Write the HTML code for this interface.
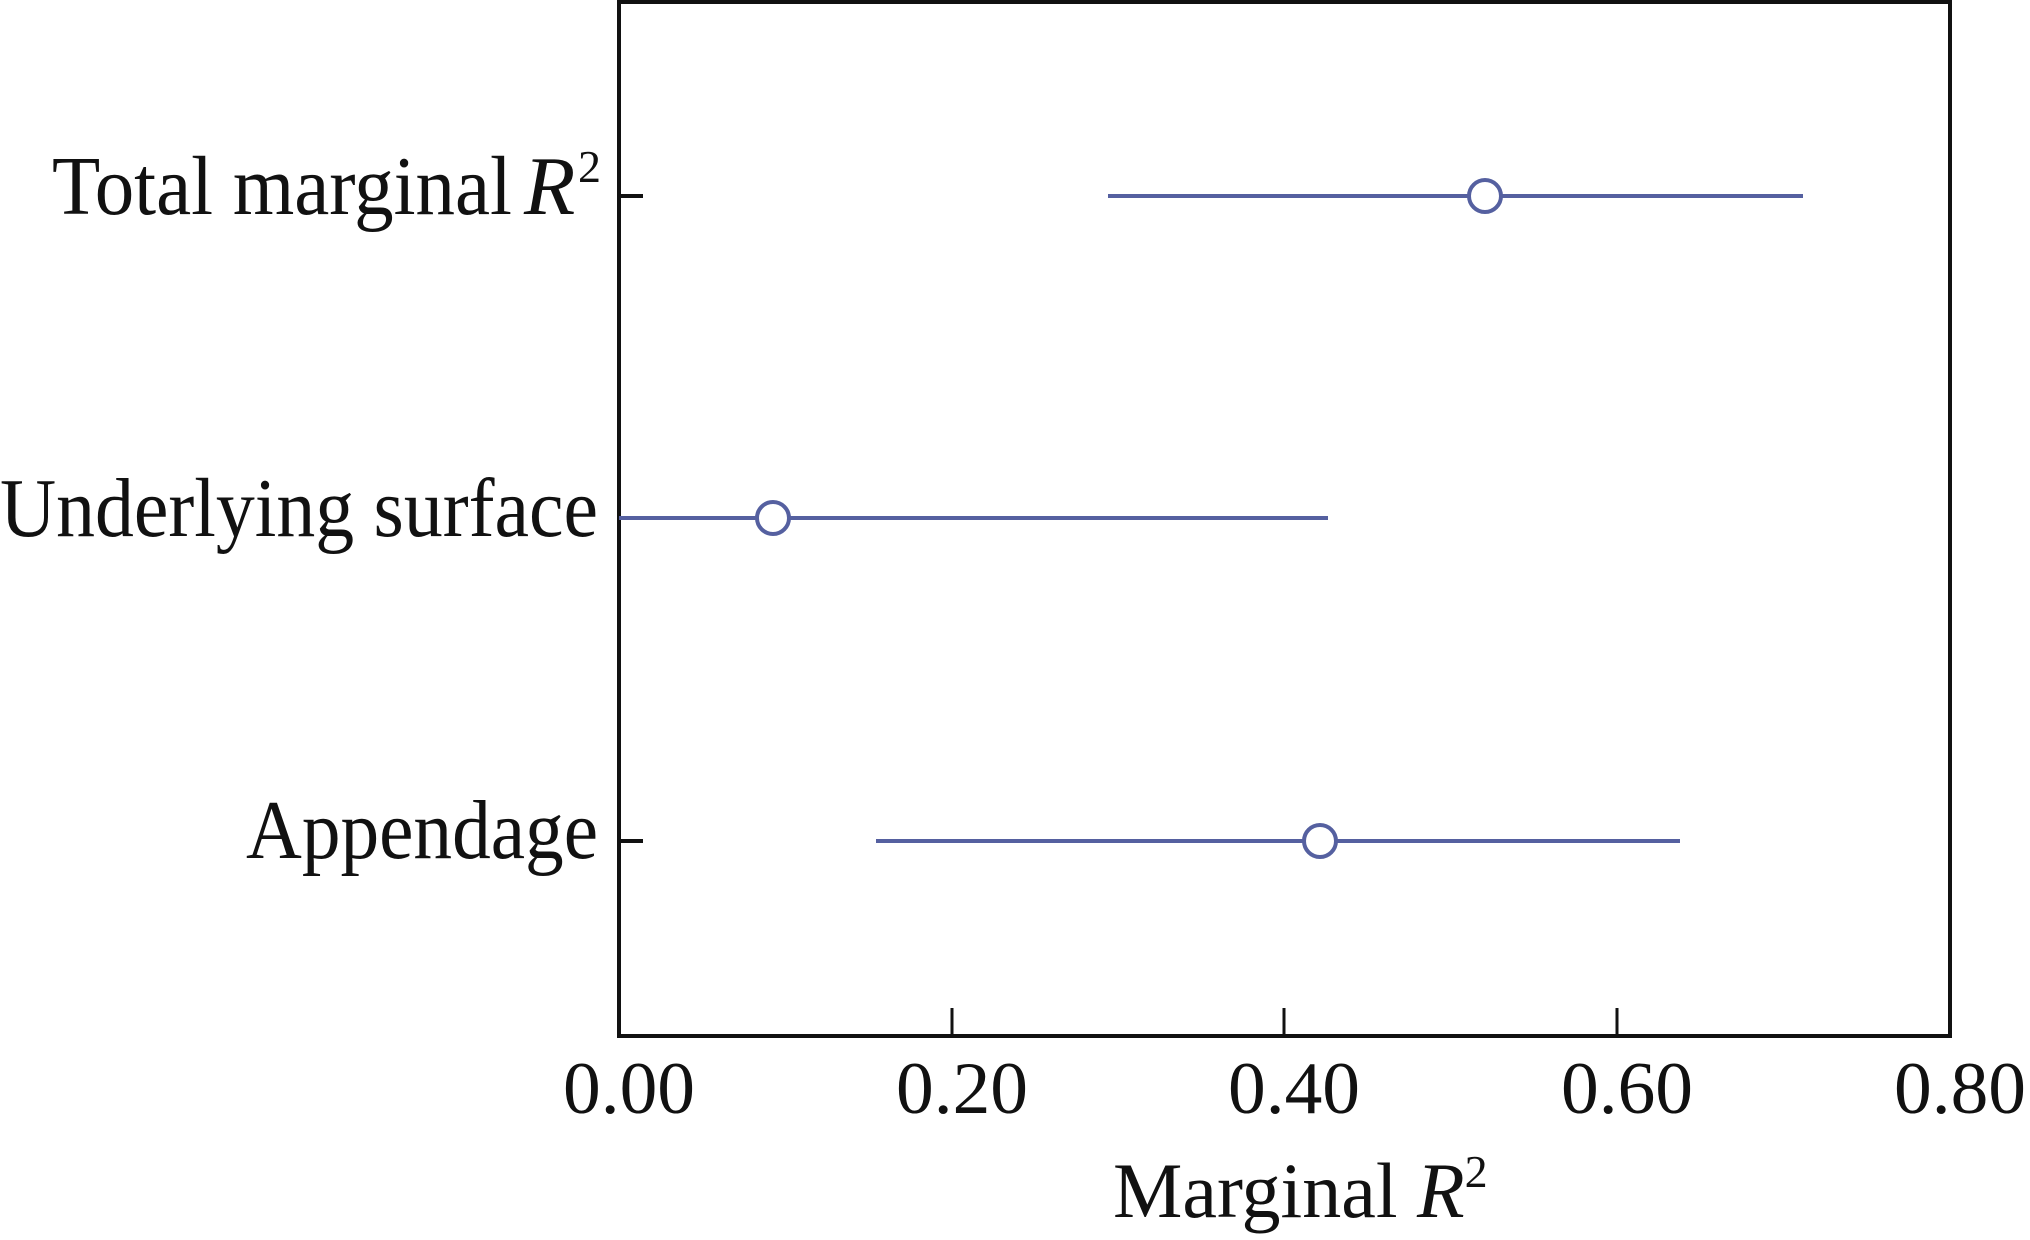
<!DOCTYPE html>
<html><head><meta charset="utf-8"><style>html,body{margin:0;padding:0;background:#fff}</style></head>
<body>
<svg width="2030" height="1235" viewBox="0 0 2030 1235" xmlns="http://www.w3.org/2000/svg" font-family="Liberation Serif, serif" fill="#111">
<rect x="619" y="2" width="1331" height="1034" fill="none" stroke="#111" stroke-width="4"/>
<g stroke="#111" stroke-width="3">
<line x1="952" y1="1036" x2="952" y2="1008"/>
<line x1="1284" y1="1036" x2="1284" y2="1008"/>
<line x1="1617" y1="1036" x2="1617" y2="1008"/>
</g>
<g stroke="#111" stroke-width="4">
<line x1="619" y1="196" x2="643" y2="196"/>
<line x1="619" y1="518" x2="643" y2="518"/>
<line x1="619" y1="841" x2="643" y2="841"/>
</g>
<g stroke="#5560a0" stroke-width="4">
<line x1="1108" y1="196" x2="1803" y2="196"/>
<line x1="619" y1="518" x2="1328" y2="518"/>
<line x1="876" y1="841" x2="1680" y2="841"/>
</g>
<g stroke="#5560a0" stroke-width="4" fill="#fff">
<circle cx="1485" cy="196" r="16"/>
<circle cx="773" cy="518" r="16"/>
<circle cx="1320" cy="841" r="16"/>
</g>
<g font-size="74" text-anchor="middle">
<text x="629" y="1113" textLength="132" lengthAdjust="spacingAndGlyphs">0.00</text>
<text x="962" y="1113" textLength="132" lengthAdjust="spacingAndGlyphs">0.20</text>
<text x="1294" y="1113" textLength="132" lengthAdjust="spacingAndGlyphs">0.40</text>
<text x="1627" y="1113" textLength="132" lengthAdjust="spacingAndGlyphs">0.60</text>
<text x="1960" y="1113" textLength="132" lengthAdjust="spacingAndGlyphs">0.80</text>
</g>
<text x="1113" y="1217" font-size="78">Marginal <tspan font-style="italic">R</tspan><tspan font-size="46" dy="-30">2</tspan></text>
<g font-size="84">
<text x="52" y="214" textLength="460" lengthAdjust="spacingAndGlyphs">Total marginal</text>
<text x="524" y="214" font-style="italic">R</text>
<text x="578" y="182" font-size="46">2</text>
<text x="0" y="536" textLength="598" lengthAdjust="spacingAndGlyphs">Underlying surface</text>
<text x="246" y="858" textLength="352" lengthAdjust="spacingAndGlyphs">Appendage</text>
</g>
</svg>
</body></html>
